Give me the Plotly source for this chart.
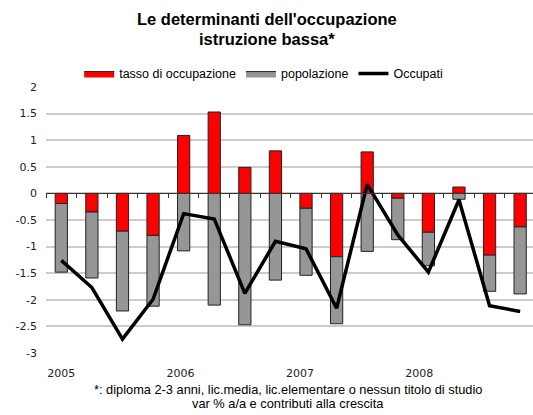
import plotly.graph_objects as go

# Quarterly data, 2005 Q1 - 2008 Q4
quarters = ["2005T1", "2005T2", "2005T3", "2005T4",
            "2006T1", "2006T2", "2006T3", "2006T4",
            "2007T1", "2007T2", "2007T3", "2007T4",
            "2008T1", "2008T2", "2008T3", "2008T4"]
tasso_occupazione = [-0.19, -0.35, -0.71, -0.79, 1.09, 1.53, 0.49, 0.80,
                     -0.28, -1.19, 0.78, -0.09, -0.73, 0.12, -1.16, -0.63]
popolazione = [-1.29, -1.24, -1.50, -1.33, -1.08, -2.10, -2.47, -1.63,
               -1.26, -1.26, -1.09, -0.78, -0.63, -0.11, -0.68, -1.26]
occupati = [-1.26, -1.77, -2.74, -1.99, -0.38, -0.48, -1.88, -0.90,
            -1.04, -2.16, 0.17, -0.78, -1.48, -0.12, -2.11, -2.22]
year_labels = ["2005", "2006", "2007", "2008"]
year_ticks = [0, 3.9, 7.8, 11.7]
title_lines = ["Le determinanti dell'occupazione", "istruzione bassa*"]
note_lines = ["*: diploma 2-3 anni, lic.media, lic.elementare o nessun titolo di studio",
              "var % a/a e contributi alla crescita"]

RED = "#FF0000"
GRAY = "#969696"
EDGE = "#222222"

x = list(range(len(quarters)))

W, H = 533, 415
M_L, M_R, M_T, M_B = 46, 0, 87, 62
Y_MIN, Y_MAX = -3, 2
PLOT_H = H - M_T - M_B


def paper_y(py):
    """Convert a pixel row of the page into a paper y coordinate."""
    return (H - M_B - py) / PLOT_H


fig = go.Figure()
fig.add_trace(go.Bar(
    x=x, y=tasso_occupazione, name="tasso di occupazione",
    marker=dict(color=RED, line=dict(color=EDGE, width=1)),
    width=0.4, showlegend=False,
))
fig.add_trace(go.Bar(
    x=x, y=popolazione, name="popolazione",
    marker=dict(color=GRAY, line=dict(color=EDGE, width=1)),
    width=0.4, showlegend=False,
))
fig.add_trace(go.Scatter(
    x=x, y=occupati, name="Occupati", mode="lines",
    line=dict(color="#000000", width=3.5), showlegend=False,
))

# Legend entries: wide filled swatches for the bars, a thick stroke for the line
for name, color in [("tasso di occupazione", RED), ("popolazione", GRAY)]:
    fig.add_trace(go.Scatter(
        x=[None], y=[None], name=name, mode="lines", fill="toself",
        fillcolor=color, line=dict(color=EDGE, width=1), hoverinfo="skip",
    ))
fig.add_trace(go.Scatter(
    x=[None], y=[None], name="Occupati", mode="lines",
    line=dict(color="#000000", width=3.5), hoverinfo="skip",
))

# A hidden trace keeps the zero-line axis drawn
fig.add_trace(go.Scatter(x=[x[0]], y=[0], xaxis="x2", mode="markers",
                         marker=dict(opacity=0), showlegend=False, hoverinfo="skip"))

x_range = [-0.5, 15.42]

fig.update_layout(
    width=W, height=H,
    margin=dict(l=M_L, r=M_R, t=M_T, b=M_B),
    paper_bgcolor="white", plot_bgcolor="white",
    barmode="relative",
    legend=dict(
        orientation="h", x=0.447, xanchor="center", y=1.049, yanchor="middle",
        font=dict(family="Liberation Sans", size=12.5, color="#000000"),
        itemwidth=30, tracegroupgap=0, bgcolor="rgba(0,0,0,0)",
    ),
    showlegend=True,
    xaxis=dict(
        range=x_range, tickmode="array", tickvals=year_ticks, ticktext=year_labels,
        showgrid=False, zeroline=False, showline=False, ticks="",
        ticklabelstandoff=12,
        tickfont=dict(family="DejaVu Sans", size=11, color="#222222"),
    ),
    xaxis2=dict(
        range=x_range, overlaying="x", anchor="free",
        position=(0 - Y_MIN) / (Y_MAX - Y_MIN),
        tickmode="array", tickvals=[i - 0.5 for i in x],
        showticklabels=False, ticks="outside", ticklen=4, tickwidth=1,
        tickcolor="#333333", showline=True, linecolor="#333333", linewidth=1,
        showgrid=False, zeroline=False,
    ),
    yaxis=dict(
        range=[Y_MIN, Y_MAX], tickmode="array",
        tickvals=[2, 1.5, 1, 0.5, 0, -0.5, -1, -1.5, -2, -2.5, -3],
        ticktext=["2", "1.5", "1", "0.5", "0", "-0.5", "-1", "-1.5", "-2", "-2.5", "-3"],
        showgrid=True, gridcolor="#CCCCCC", gridwidth=1.5,
        zeroline=False, showline=False, ticks="", ticklabelstandoff=8,
        tickfont=dict(family="DejaVu Sans", size=11, color="#222222"),
    ),
)

# Two-line bold title
for text, py in zip(title_lines, [19, 39]):
    fig.add_annotation(
        text=f"<b>{text}</b>", xref="paper", yref="paper",
        x=(W / 2 - M_L) / (W - M_L - M_R), y=paper_y(py),
        xanchor="center", yanchor="middle", showarrow=False,
        font=dict(family="Liberation Sans", size=16.5, color="#000000"),
    )

# Footnote
for text, py in zip(note_lines, [389.0, 403.5]):
    fig.add_annotation(
        text=text, xref="paper", yref="paper", x=0.497, y=paper_y(py),
        xanchor="center", yanchor="middle", showarrow=False,
        font=dict(family="Liberation Sans", size=12.8, color="#000000"),
    )

fig.write_html("out.html")
